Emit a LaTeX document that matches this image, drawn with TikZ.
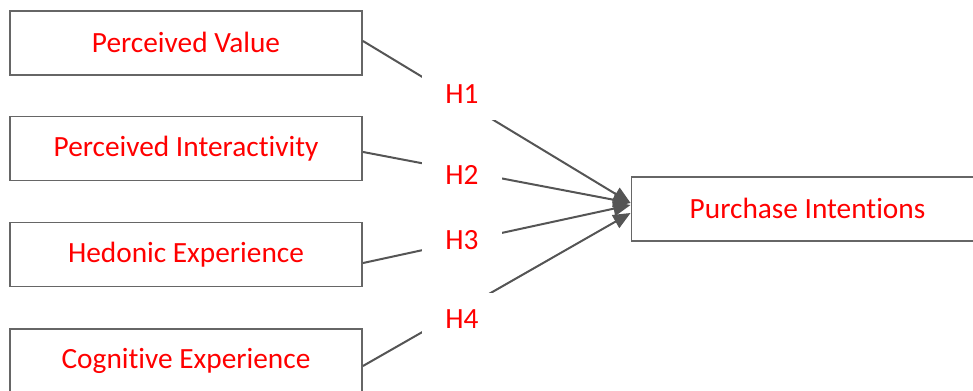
\documentclass[tikz,border=0pt]{standalone}
\usepackage{fontspec}
\setmainfont{Carlito}[Ligatures=NoCommon]
\usetikzlibrary{arrows.meta}
\definecolor{linegray}{HTML}{555555}
\definecolor{boxgray}{HTML}{666666}
\definecolor{labelred}{HTML}{FF0000}

\begin{document}
\begin{tikzpicture}[x=0.75pt,y=-0.75pt,
  construct/.style={draw=boxgray,line width=1.4pt,fill=white,
    minimum width=264pt,minimum height=48pt,inner sep=0pt,
    text=labelred,font=\fontsize{22}{26}\selectfont},
  hyp/.style={fill=white,minimum width=60pt,minimum height=39pt,inner sep=0pt,
    text=labelred,font=\fontsize{22}{26}\selectfont},
  connector/.style={draw=linegray,line width=1.5pt,
    -{Triangle[length=13pt,width=11pt]}}]
\useasboundingbox (0,0) rectangle (973,391);
\clip (0,0) rectangle (973,391);

% constructs
\node[construct] (pv)   at (186,43)    {\raisebox{1.5pt}{Perceived Value}};
\node[construct] (pint) at (186,148.5) {\raisebox{1.5pt}{Perceived Interactivity}};
\node[construct] (he)   at (186,254.5) {\raisebox{1.5pt}{Hedonic Experience}};
\node[construct] (ce)   at (186,361)   {\raisebox{1.5pt}{Cognitive Experience}};
\node[construct] (pi)   at (807.5,209) {\raisebox{1.5pt}{Purchase Intentions}};

% hypothesised paths
\draw[connector] ([yshift=1.5pt]pv.east)    -- ([yshift=4.5pt]pi.west);
\draw[connector] ([yshift=-2.6pt]pint.east) -- ([yshift=4.5pt]pi.west);
\draw[connector] ([yshift=-6.4pt]he.east)   -- ([yshift=3pt]pi.west);
\draw[connector] ([yshift=-3.75pt]ce.east)  -- ([yshift=-3pt]pi.west);

% hypothesis labels
\node[hyp] (h1) at (462,94)  {H1};
\node[hyp] (h2) at (462,175) {H2};
\node[hyp] (h3) at (462,240) {H3};
\node[hyp] (h4) at (462,319) {H4};
\end{tikzpicture}
\end{document}
